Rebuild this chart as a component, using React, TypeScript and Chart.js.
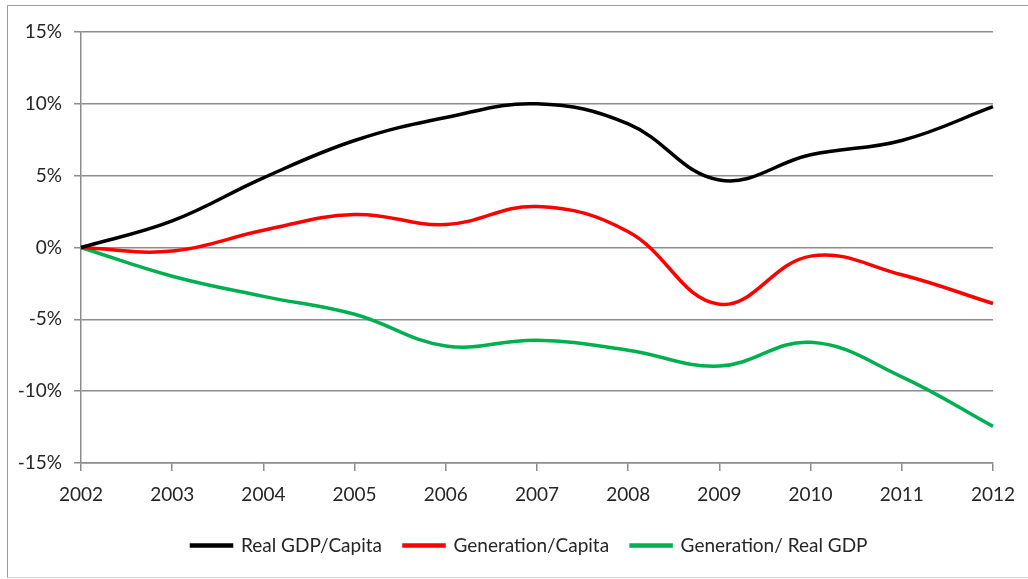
import React, { useEffect, useRef } from "react";
import { Chart, registerables } from "chart.js";

Chart.register(...registerables);

const years = ["2002", "2003", "2004", "2005", "2006", "2007", "2008", "2009", "2010", "2011", "2012"];
const realGdpPerCapita = [0, 1.85, 4.85, 7.45, 9.05, 10.0, 8.6, 4.7, 6.45, 7.45, 9.8];
const generationPerCapita = [0, -0.25, 1.2, 2.3, 1.6, 2.85, 1.1, -3.95, -0.6, -1.9, -3.9];
const generationPerRealGdp = [0, -2.0, -3.4, -4.65, -6.85, -6.45, -7.15, -8.25, -6.6, -9.0, -12.45];
const seriesNames = ["Real GDP/Capita", "Generation/Capita", "Generation/ Real GDP"];
const seriesColors = ["#000000", "#ff0000", "#00b050"];
const yTicks = [-15, -10, -5, 0, 5, 10, 15];

const FONT = "Lato, 'Liberation Sans Narrow', sans-serif";
const TEXT = "#262626";
const GRID = "#8c8c8c";

const legendShift = {
  id: "legendShift",
  afterLayout(chart: any) {
    const lg = chart.legend;
    if (!lg) return;
    lg.left += 29;
    lg.right += 29;
    lg.top -= 3;
    lg.bottom -= 3;
  },
};

export default function App() {
  const ref = useRef<HTMLCanvasElement | null>(null);

  useEffect(() => {
    if (!ref.current) return;
    const all = [realGdpPerCapita, generationPerCapita, generationPerRealGdp];
    const chart = new Chart(ref.current, {
      type: "line",
      data: {
        labels: years,
        datasets: all.map((d, i) => ({
          label: seriesNames[i],
          data: d,
          borderColor: seriesColors[i],
          backgroundColor: seriesColors[i],
          borderWidth: 3.5,
          pointRadius: 0,
          tension: 0.4,
          fill: false,
        })),
      },
      plugins: [legendShift],
      options: {
        responsive: false,
        animation: false,
        layout: { padding: { left: 0, top: 26, right: 35, bottom: 8 } },
        plugins: {
          tooltip: { enabled: false },
          legend: {
            position: "bottom",
            labels: {
              boxWidth: 40,
              boxHeight: 1,
              padding: 22,
              color: TEXT,
              font: { family: FONT, size: 19 },
            },
          },
        },
        scales: {
          x: {
            type: "category",
            offset: false,
            grid: {
              drawOnChartArea: false,
              drawTicks: true,
              tickLength: 8,
              color: GRID,
              lineWidth: 1.5,
            },
            border: { display: true, color: GRID, width: 1.5 },
            ticks: {
              color: TEXT,
              font: { family: FONT, size: 19 },
              padding: 12,
              maxRotation: 0,
              autoSkip: false,
            },
            afterFit: (s: any) => {
              s.height = 54;
            },
          },
          y: {
            min: -15,
            max: 15,
            afterBuildTicks: (s: any) => {
              s.ticks = yTicks.map((v) => ({ value: v }));
            },
            grid: {
              drawOnChartArea: true,
              drawTicks: true,
              tickLength: 7,
              color: GRID,
              lineWidth: 1.5,
            },
            border: { display: true, color: GRID, width: 1.5 },
            ticks: {
              color: TEXT,
              font: { family: FONT, size: 19 },
              padding: 12,
              callback: (v: any) => `${v}%`,
            },
            afterFit: (s: any) => {
              s.width = 73;
            },
          },
        },
      },
    });
    return () => chart.destroy();
  }, []);

  return (
    <div
      style={{
        position: "absolute",
        left: 7,
        top: 5,
        width: 1021,
        height: 573,
        borderTop: "1px solid #9a9a9a",
        borderLeft: "1px solid #9a9a9a",
        borderBottom: "1px solid #d0d0d0",
        boxSizing: "border-box",
        background: "#fff",
      }}
    >
      <canvas ref={ref} width={1020} height={570} style={{ display: "block" }} />
    </div>
  );
}
